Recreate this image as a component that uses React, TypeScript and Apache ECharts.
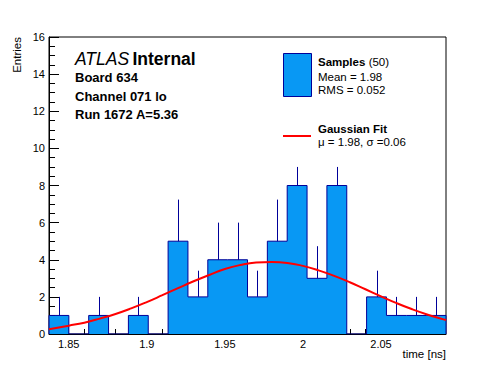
import React, { useEffect, useRef } from 'react';
import * as echarts from 'echarts';

// ---- data ----
const X_MIN = 1.8374;
const X_MAX = 2.0916;
const BIN_WIDTH = 0.01271;
const binCounts = [1, 0, 1, 0, 1, 0, 5, 2, 4, 4, 2, 5, 8, 3, 8, 0, 2, 1, 1, 1];
const binErrors = [1, 0, 1, 0, 1, 0, 2.24, 1.41, 2, 2, 1.41, 2.24, 1, 1.73, 1, 0, 1.41, 1, 1, 1];
const fitX = [1.8374, 1.85, 1.86, 1.87, 1.88, 1.89, 1.9, 1.91, 1.92, 1.93, 1.94, 1.95, 1.96, 1.97, 1.98, 1.99, 2.0, 2.01, 2.02, 2.03, 2.04, 2.05, 2.06, 2.07, 2.08, 2.09, 2.0916];
const fitY = [0.26, 0.45, 0.61, 0.83, 1.08, 1.38, 1.72, 2.09, 2.47, 2.84, 3.18, 3.5, 3.72, 3.85, 3.88, 3.83, 3.67, 3.43, 3.13, 2.79, 2.41, 2.03, 1.66, 1.33, 1.04, 0.79, 0.75];
const xMajorTicks = [1.85, 1.9, 1.95, 2, 2.05];
const xMinorTicks = [1.84, 1.86, 1.87, 1.88, 1.89, 1.91, 1.92, 1.93, 1.94, 1.96, 1.97, 1.98, 1.99, 2.01, 2.02, 2.03, 2.04, 2.06, 2.07, 2.08, 2.09];
const Y_MAX = 16;

const FONT = '"Liberation Sans", Arial, Helvetica, sans-serif';
const FILL = '#0898f4';
const NAVY = '#000099';

export default function App() {
  const ref = useRef<HTMLDivElement>(null);
  useEffect(() => {
    if (!ref.current) return;
    const chart = echarts.init(ref.current, null, { renderer: 'svg' });

    const histLine: number[][] = [[X_MIN, 0]];
    binCounts.forEach((c, i) => histLine.push([X_MIN + i * BIN_WIDTH, c]));
    histLine.push([X_MIN + binCounts.length * BIN_WIDTH, binCounts[binCounts.length - 1]]);
    histLine.push([X_MIN + binCounts.length * BIN_WIDTH, 0]);

    const errData = binCounts.map((c, i) => [X_MIN + (i + 0.5) * BIN_WIDTH, c, binErrors[i]]);

    const option: any = {
      animation: false,
      backgroundColor: '#fff',
      grid: {
        left: 49, top: 37, right: 50, bottom: 38,
        show: true, borderColor: '#000', borderWidth: 1, backgroundColor: 'transparent',
      },
      xAxis: [
        {
          type: 'value', min: X_MIN, max: X_MAX, position: 'bottom',
          axisLine: { show: true, onZero: false, lineStyle: { color: '#000', width: 1 } },
          axisTick: { show: true, inside: true, length: 9, customValues: xMajorTicks, lineStyle: { color: '#000' } },
          axisLabel: { show: true, customValues: xMajorTicks, margin: 4, color: '#000', fontSize: 11, fontFamily: FONT },
          splitLine: { show: false },
        },
        {
          type: 'value', min: X_MIN, max: X_MAX, position: 'bottom',
          axisLine: { show: false },
          axisTick: { show: true, inside: true, length: 5, customValues: xMinorTicks, lineStyle: { color: '#000' } },
          axisLabel: { show: false },
          splitLine: { show: false },
        },
      ],
      yAxis: {
        type: 'value', min: 0, max: Y_MAX, interval: 2,
        axisLine: { show: true, lineStyle: { color: '#000', width: 1 } },
        axisTick: { show: true, inside: true, length: 10, lineStyle: { color: '#000' } },
        minorTick: { show: true, splitNumber: 4, length: 6, lineStyle: { color: '#000' } },
        axisLabel: { margin: 4, color: '#000', fontSize: 11, fontFamily: FONT },
        splitLine: { show: false },
      },
      series: [
        {
          type: 'line', xAxisIndex: 0, data: histLine, step: 'end', symbol: 'none',
          lineStyle: { color: NAVY, width: 1 },
          areaStyle: { color: FILL, opacity: 1 },
          z: 2,
        },
        {
          type: 'custom', xAxisIndex: 0, data: errData, encode: { x: 0, y: 1 },
          renderItem: (params: any, api: any) => {
            const x = api.value(0), y = api.value(1), e = api.value(2);
            if (!(e > 0)) return { type: 'group', children: [] };
            const p1 = api.coord([x, y]);
            const p2 = api.coord([x, y + e]);
            const px = Math.round(p1[0]) + 0.5;
            return {
              type: 'line',
              shape: { x1: px, y1: p1[1], x2: px, y2: p2[1] },
              style: { stroke: NAVY, lineWidth: 1 },
            };
          },
          z: 3,
        },
        {
          type: 'line', xAxisIndex: 0, data: fitX.map((x, i) => [x, fitY[i]]), smooth: true,
          symbol: 'none', lineStyle: { color: '#ff0000', width: 2 }, z: 4,
        },
      ],
      graphic: [
        { type: 'text', x: 17, y: 37, rotation: Math.PI / 2,
          style: { text: 'Entries', align: 'right', verticalAlign: 'middle', fontSize: 11.5, fontFamily: FONT, fill: '#000' } },
        { type: 'text', x: 446, y: 354,
          style: { text: 'time [ns]', align: 'right', verticalAlign: 'middle', fontSize: 11.5, fontFamily: FONT, fill: '#000' } },
        { type: 'text', x: 75, y: 58.5,
          style: {
            text: '{a|ATLAS} {b|Internal}', verticalAlign: 'middle', fontFamily: FONT,
            rich: {
              a: { fontStyle: 'italic', fontSize: 17.5, fontFamily: FONT, fill: '#000' },
              b: { fontWeight: 'bold', fontSize: 17.5, fontFamily: FONT, fill: '#000' },
            },
          } },
        { type: 'text', x: 75, y: 77, style: { text: 'Board 634', verticalAlign: 'middle', fontSize: 13, fontWeight: 'bold', fontFamily: FONT, fill: '#000' } },
        { type: 'text', x: 75, y: 96, style: { text: 'Channel 071 lo', verticalAlign: 'middle', fontSize: 13, fontWeight: 'bold', fontFamily: FONT, fill: '#000' } },
        { type: 'text', x: 75, y: 114.5, style: { text: 'Run 1672 A=5.36', verticalAlign: 'middle', fontSize: 13, fontWeight: 'bold', fontFamily: FONT, fill: '#000' } },
        // legend
        { type: 'rect', shape: { x: 283.5, y: 53.5, width: 28, height: 43 }, style: { fill: FILL, stroke: NAVY, lineWidth: 1 } },
        { type: 'text', x: 318, y: 62, style: {
            text: '{b|Samples} {r|(50)}', verticalAlign: 'middle',
            rich: {
              b: { fontWeight: 'bold', fontSize: 11.5, fontFamily: FONT, fill: '#000' },
              r: { fontSize: 11.5, fontFamily: FONT, fill: '#000' },
            } } },
        { type: 'text', x: 318, y: 76.5, style: { text: 'Mean = 1.98', verticalAlign: 'middle', fontSize: 11.5, fontFamily: FONT, fill: '#000' } },
        { type: 'text', x: 318, y: 90, style: { text: 'RMS = 0.052', verticalAlign: 'middle', fontSize: 11.5, fontFamily: FONT, fill: '#000' } },
        { type: 'line', shape: { x1: 283, y1: 136, x2: 311, y2: 136 }, style: { stroke: '#ff0000', lineWidth: 2 } },
        { type: 'text', x: 318, y: 129, style: { text: 'Gaussian Fit', verticalAlign: 'middle', fontSize: 11.5, fontWeight: 'bold', fontFamily: FONT, fill: '#000' } },
        { type: 'text', x: 318, y: 141.5, style: { text: 'μ = 1.98, σ =0.06', verticalAlign: 'middle', fontSize: 11.5, fontFamily: FONT, fill: '#000' } },
      ],
    };
    chart.setOption(option);
    return () => chart.dispose();
  }, []);
  return (
    <div
      ref={ref}
      style={{ position: 'fixed', left: 0, top: 0, width: 496, height: 372, background: '#fff' }}
    />
  );
}
